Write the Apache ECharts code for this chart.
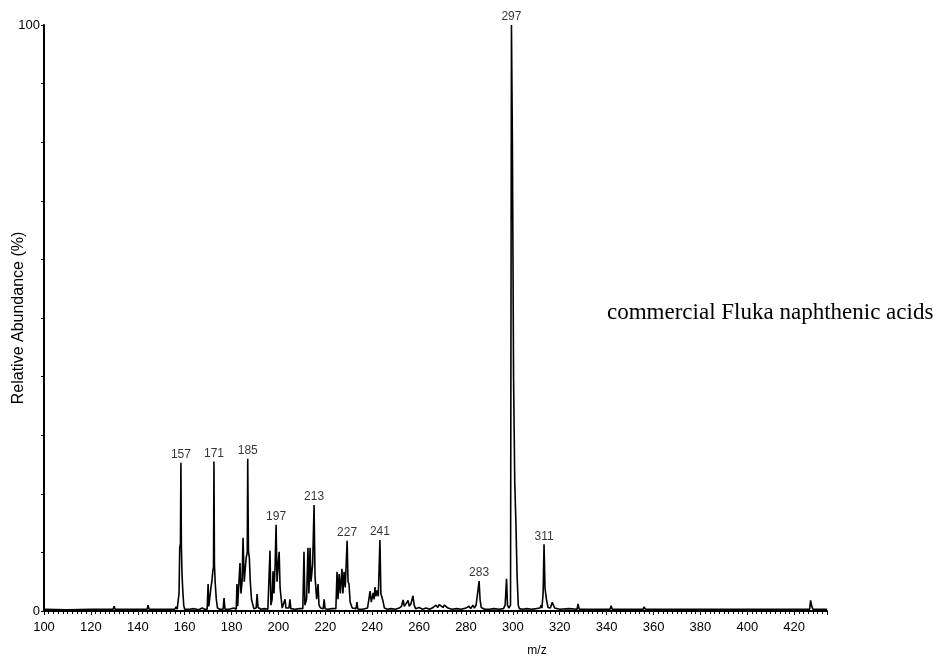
<!DOCTYPE html>
<html>
<head>
<meta charset="utf-8">
<script src="https://cdn.jsdelivr.net/npm/echarts@6/dist/echarts.min.js"></script>
<style>html,body{margin:0;padding:0;background:#fff}#c{width:942px;height:660px}</style>
</head>
<body>
<div id="c"></div>
<script>
// ---- spectrum, split into clusters: [m/z, relative abundance %] ----
const baseLow = [[100,0.3],[110,0.2],[120,0.3],[129.5,0.3],[129.9,0.8],[130.3,0.3],[140,0.3],[144.0,0.3],[144.4,1.0],[144.8,0.3],[150,0.3],[155.8,0.3],[156.3,0.7],[156.8,0.3]];
const cluster157 = [[157.3,0.4],[157.6,3],[157.9,10.8],[158.2,11.5],[158.4,25.3],[158.6,11],[158.9,6],[159.2,3.5],[159.6,1],[160.0,0.3],[162,0.3],[164,0.4],[166,0.2],[167.5,0.5],[168.5,0.3]];
const cluster171 = [[169.6,0.3],[170.0,4.6],[170.3,0.8],[170.8,1],[171.2,4.0],[171.6,5],[172.0,6.8],[172.3,7.5],[172.5,25.5],[172.7,8],[173.0,5],[173.5,2],[174.0,0.5],[175,0.3],[176.4,0.3],[176.8,2.2],[177.2,0.3],[179,0.3],[181,0.5]];
const cluster185 = [[182.0,0.3],[182.3,4.6],[182.6,0.8],[183.2,1],[183.6,8.2],[184.0,3],[184.5,5],[184.9,12.5],[185.4,5],[186.2,9],[186.7,10],[186.9,26],[187.2,10.3],[187.6,9],[188.0,5],[188.5,2],[189.5,0.4],[190.5,0.5],[190.9,2.9],[191.3,0.6],[192.5,0.3],[194,0.4],[195.5,0.3]];
const cluster197 = [[196.0,0.4],[196.4,10.3],[196.8,1],[197.3,2],[197.7,6.8],[198.1,3],[198.6,8],[199.0,14.7],[199.4,5],[199.9,8],[200.3,10.1],[200.7,4],[201.2,2],[201.6,0.5],[202.4,0.5],[202.8,2],[203.2,0.5],[204.5,0.5],[204.9,2],[205.3,0.4],[207,0.3],[209,0.4]];
const cluster213 = [[210.4,0.4],[210.9,10.1],[211.3,1],[212.0,2],[212.6,10.8],[213.0,3],[213.5,10.8],[213.9,5],[214.6,8],[215.2,18.1],[215.6,6],[216.3,2],[216.9,4.6],[217.3,1],[218,0.5],[219.1,0.4],[219.5,2],[219.9,0.4],[221,0.3],[223,0.4]];
const cluster227 = [[224.5,0.4],[225.0,6.7],[225.4,2],[225.9,6.3],[226.4,3],[227.1,7.2],[227.5,3],[228.0,6.7],[228.5,4],[229.3,12],[229.7,5],[230.1,4.6],[230.6,1.5],[231.5,0.5],[233.1,0.4],[233.5,1.5],[233.9,0.3],[236,0.3],[238,0.5]];
const cluster241 = [[238.7,0.4],[239.1,3.4],[239.6,1.5],[240.4,3.1],[240.8,2],[241.2,4.1],[241.6,2.5],[242.1,3.5],[242.6,2.5],[243.3,12.1],[243.7,3],[244.6,1.7],[245.2,0.5],[246.5,0.3],[248,0.4],[250,0.3]];
const cluster255 = [[251.5,0.5],[252.5,0.8],[253.2,1.9],[253.7,0.8],[254.5,1],[255.3,1.8],[255.8,0.8],[256.5,1.2],[257.4,2.6],[257.9,1],[258.5,0.4],[260,0.6],[261.5,0.3],[263,0.5],[264.5,0.3],[266,0.6],[267.2,1],[268,0.6],[268.6,1.1],[269.4,1],[270.2,0.6],[270.8,1],[271.5,1.1],[272.3,0.5],[274,0.3],[276,0.4],[278,0.3],[280,0.5]];
const cluster283 = [[281.3,0.8],[282,0.4],[283.0,1],[283.6,0.5],[284.3,1],[284.8,2.5],[285.6,5.1],[286.0,2],[286.5,0.6],[288,0.3],[290,0.3],[292,0.4],[294,0.3],[296,0.4]];
const cluster297 = [[296.7,1],[297.3,5.5],[297.7,1],[298.3,0.5],[299.0,1],[299.4,100],[299.8,80],[300.3,40],[300.8,22],[301.3,15],[301.8,6],[302.3,1],[302.8,0.4],[304,0.3],[306,0.4],[308,0.3],[310,0.4]];
const cluster311 = [[311.6,0.5],[312.0,1],[312.4,0.5],[312.9,3],[313.3,11.4],[313.7,4],[314.3,2],[315,0.6],[316,0.5],[316.8,1.5],[317.2,1.8],[317.8,0.5],[320,0.3],[324,0.4]];
const baseHigh = [[327.4,0.3],[327.8,1.2],[328.3,0.3],[335,0.3],[341.5,0.3],[341.9,0.9],[342.4,0.3],[350,0.3],[355.6,0.3],[356.0,0.7],[356.5,0.3],[365,0.3],[369.7,0.3],[370.1,0.6],[370.6,0.3],[380,0.3],[390,0.3],[400,0.3],[410,0.3],[420,0.3],[426.6,0.3],[427.0,1.8],[427.5,0.8],[428,0.3],[434,0.3]];

// labelled peaks
const peakMz = [158.4,172.5,186.9,199.0,215.2,229.3,243.3,285.6,299.4,313.3];
const peakAbund = [25.3,25.5,26,14.7,18.1,12,12.1,5.1,100,11.4];
const peakText = ['157','171','185','197','213','227','241','283','297','311'];

const xTicks = {min:100, max:434, interval:20};
const yTicks = {min:0, max:100, interval:10, labelled:[0,100]};

const spectrum = [].concat(baseLow, cluster157, cluster171, cluster185, cluster197, cluster213,
  cluster227, cluster241, cluster255, cluster283, cluster297, cluster311, baseHigh);

const chart = echarts.init(document.getElementById('c'), null, {renderer:'canvas'});
const font = 'Liberation Sans, Arial, sans-serif';
chart.setOption({
  animation:false,
  backgroundColor:'#fff',
  grid:{left:44, right:115, top:25, bottom:49, containLabel:false},
  xAxis:{
    type:'value', min:xTicks.min, max:xTicks.max, interval:xTicks.interval,
    axisLine:{show:true, onZero:false, lineStyle:{color:'#000', width:2}},
    axisTick:{show:true, inside:false, length:4, lineStyle:{color:'#000', width:1}},
    minorTick:{show:true, splitNumber:10, length:3, lineStyle:{color:'#000', width:1}},
    axisLabel:{show:true, margin:10, fontSize:13, color:'#000', fontFamily:font, showMaxLabel:false},
    splitLine:{show:false}, minorSplitLine:{show:false}
  },
  yAxis:{
    type:'value', min:yTicks.min, max:yTicks.max, interval:yTicks.interval,
    axisLine:{show:true, lineStyle:{color:'#000', width:2}},
    axisTick:{show:true, length:3, lineStyle:{color:'#000', width:1}},
    axisLabel:{show:true, margin:4, fontSize:13, color:'#000', fontFamily:font,
      formatter:v => yTicks.labelled.indexOf(v) >= 0 ? String(v) : ''},
    splitLine:{show:false}
  },
  series:[
    {type:'line', data:spectrum, symbol:'none', smooth:false, clip:true,
     lineStyle:{color:'#000', width:1.6}, z:3},
    {type:'scatter', symbolSize:0, z:4,
     data:peakMz.map((m,i)=>({value:[m, peakAbund[i]], name:peakText[i]})),
     label:{show:true, position:'top', distance:2, formatter:p=>p.name,
       fontSize:12, color:'#000', fontFamily:font}}
  ],
  graphic:[
    {type:'text', x:19, y:318, rotation:Math.PI/2,
     style:{text:'Relative Abundance (%)', font:'16px '+font, fill:'#000', textAlign:'center', textVerticalAlign:'middle'}},
    {type:'text', x:537, y:651,
     style:{text:'m/z', font:'12px '+font, fill:'#000', textAlign:'center', textVerticalAlign:'middle'}},
    {type:'text', x:607, y:313,
     style:{text:'commercial Fluka naphthenic acids', font:'23px "Liberation Serif", "Times New Roman", serif', fill:'#000', textAlign:'left', textVerticalAlign:'middle'}}
  ]
});
</script>
</body>
</html>
